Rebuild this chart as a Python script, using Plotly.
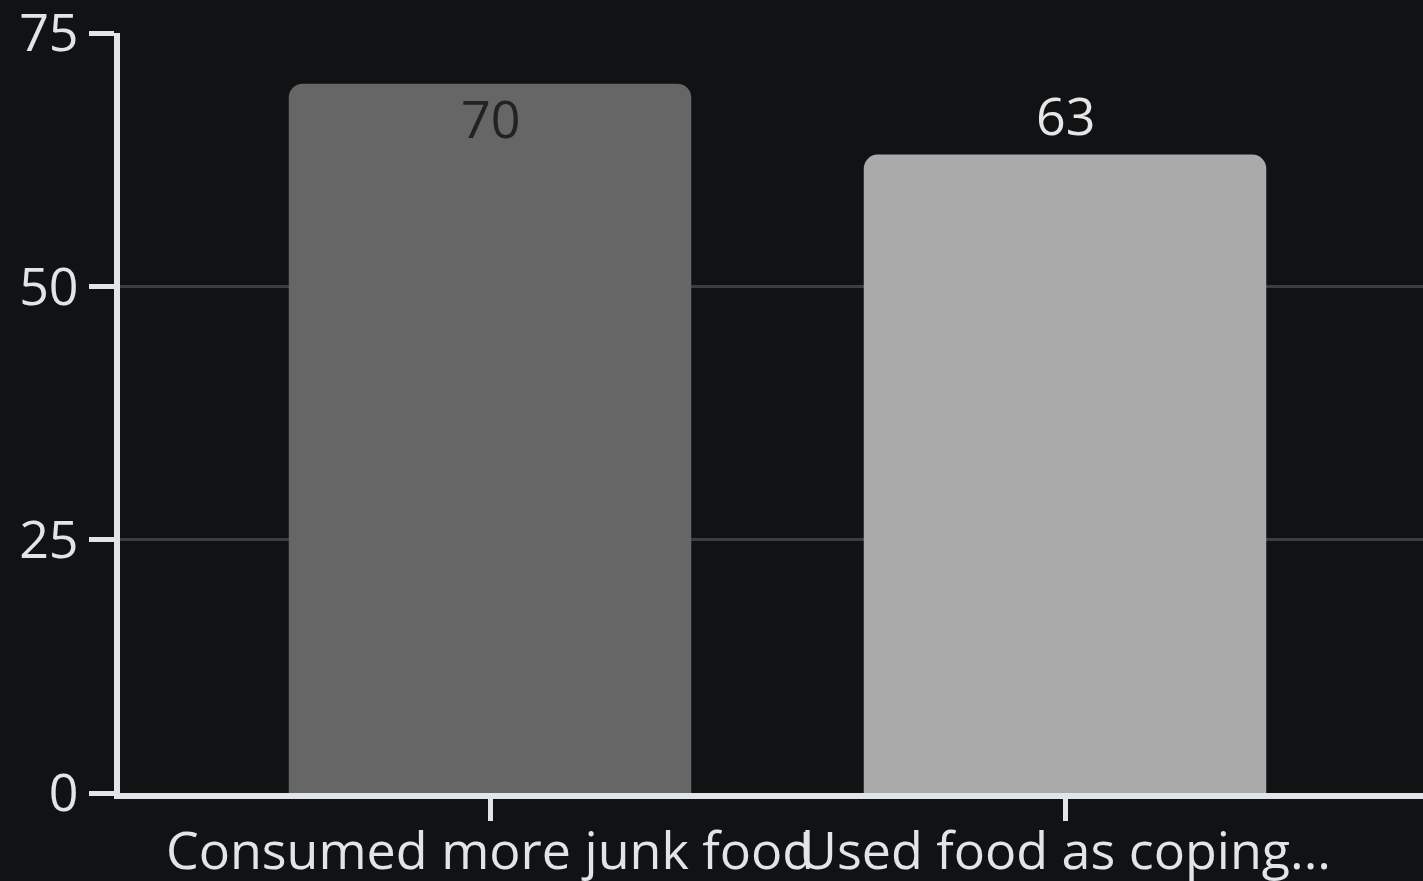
import plotly.graph_objects as go

# Survey results: share of respondents (%)
categories = ["Consumed more junk food", "Used food as coping..."]
values = [70, 63]
bar_colors = ["#666666", "#aaaaaa"]
label_colors = ["#222222", "#e6e6e6"]
label_inside = [True, False]
y_ticks = [0, 25, 50, 75]

bg = "#111214"
axis_col = "#e1e4e8"
font_family = "Open Sans, Noto Sans, sans-serif"
font_size = 52

fig = go.Figure(
    go.Bar(
        x=categories,
        y=values,
        width=0.7,
        marker=dict(color=bar_colors, line=dict(width=0), cornerradius=14),
        showlegend=False,
        hoverinfo="x+y",
    )
)

# value labels: inside the top of the bar or just above it
for cat, val, col, inside in zip(categories, values, label_colors, label_inside):
    fig.add_annotation(
        x=cat,
        y=val,
        text=str(val),
        showarrow=False,
        xanchor="center",
        yanchor="top" if inside else "bottom",
        yshift=4 if inside else 3,
        font=dict(size=font_size, color=col, family=font_family),
    )

fig.update_layout(
    width=1423,
    height=881,
    paper_bgcolor=bg,
    plot_bgcolor=bg,
    margin=dict(l=120, r=0, t=33, b=88, pad=0),
    font=dict(family=font_family, size=font_size, color=axis_col),
)

fig.update_xaxes(
    range=[-0.6435, 1.6226],
    automargin=False,
    showline=True,
    linecolor=axis_col,
    linewidth=6,
    ticks="outside",
    ticklen=22,
    tickwidth=5,
    tickcolor=axis_col,
    tickangle=0,
    ticklabelstandoff=-14,
    ticklabeloverflow="allow",
    showgrid=False,
    zeroline=False,
    tickfont=dict(size=font_size, color=axis_col),
)

fig.update_yaxes(
    range=[0, 75],
    automargin=False,
    tickvals=y_ticks,
    showline=True,
    linecolor=axis_col,
    linewidth=6,
    ticks="outside",
    ticklen=25,
    tickwidth=5,
    tickcolor=axis_col,
    ticklabeloverflow="allow",
    showgrid=True,
    gridcolor="#3c3d40",
    gridwidth=3,
    zeroline=False,
    tickfont=dict(size=font_size, color=axis_col),
)

fig.write_html("out.html")
